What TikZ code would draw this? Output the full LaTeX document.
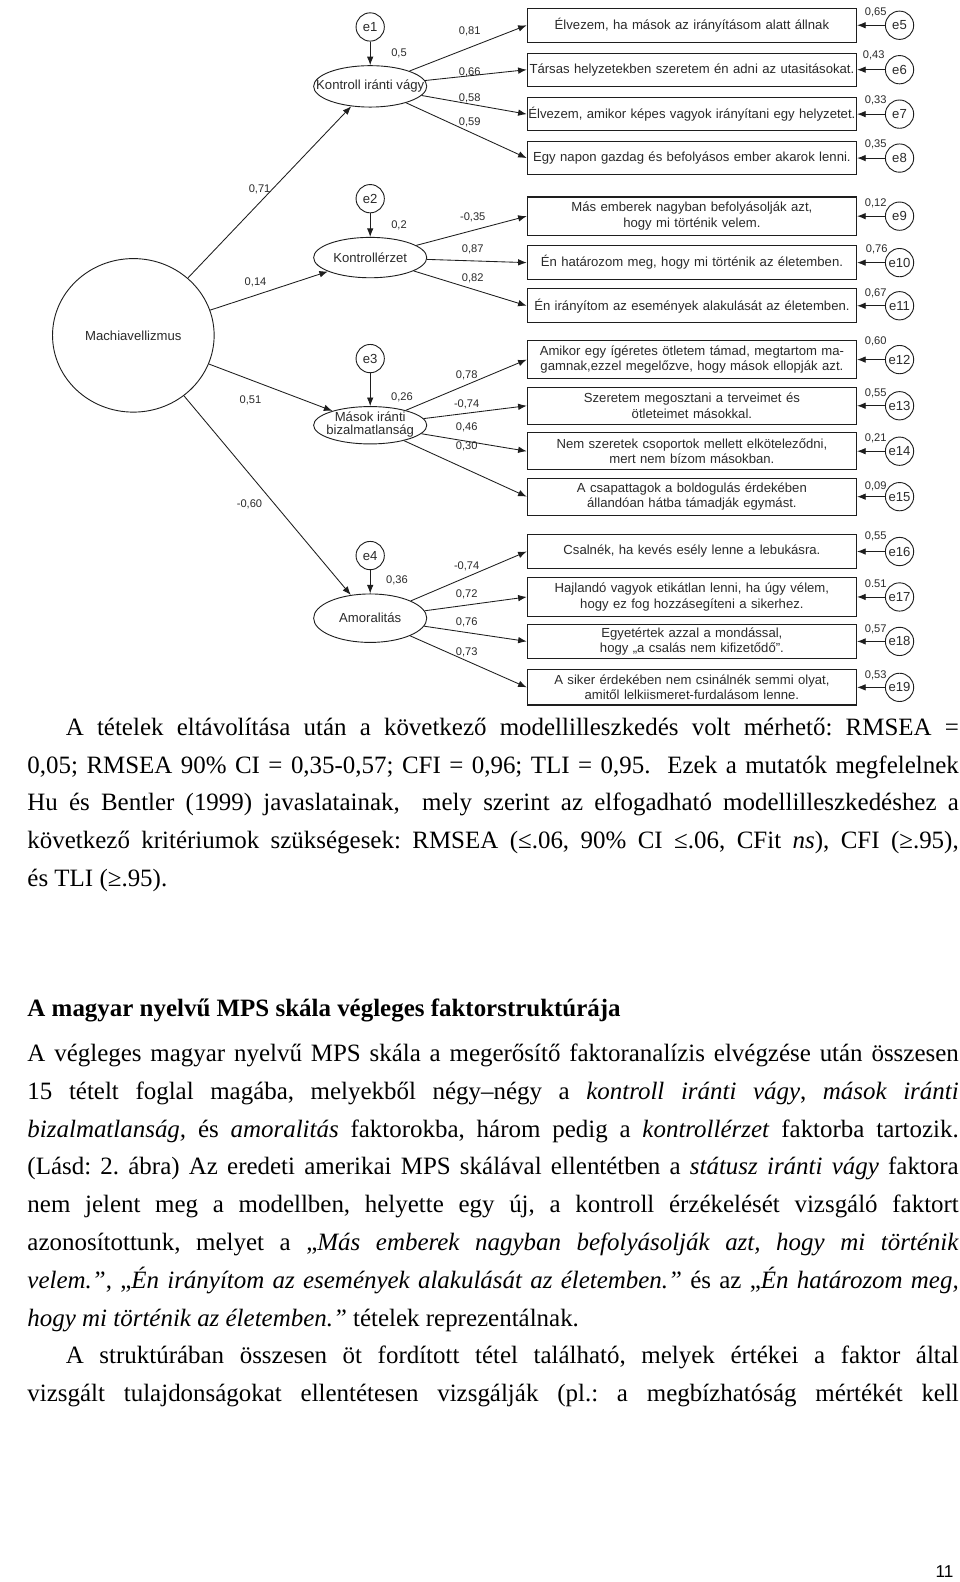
\documentclass[tikz,border=0pt]{standalone}
\usepackage{fontspec}
\setmainfont{Liberation Serif}
\newfontfamily\arialf{Liberation Sans}
\usetikzlibrary{shapes.geometric,arrows.meta}
\newcommand\diagfont{\arialf\fontsize{13}{15.5}\selectfont}
\newcommand\numfont{\arialf\fontsize{11}{13}\selectfont}
\newcommand\mybody{\fontsize{24.7}{37.4}\selectfont}
\newcommand\jline[2]{\makebox[#1][s]{#2}}
\definecolor{ink}{HTML}{1E1E1E}
\definecolor{tink}{HTML}{2A2A2A}
\frenchspacing
\begin{document}
\begin{tikzpicture}[x=1pt,y=-1pt,
  lat/.style={draw=ink, ellipse, line width=0.9pt, minimum width=112pt, minimum height=40pt, inner sep=0pt},
  dtext/.style={font=\diagfont, text=tink, align=center, inner sep=0pt},
  err/.style={draw=ink, circle, line width=0.9pt, minimum size=28pt, inner sep=0pt, font=\diagfont, text=tink},
  item/.style={draw=ink, rectangle, line width=1.1pt, text width=340pt, inner xsep=-7pt, inner ysep=0pt, font=\diagfont, text=tink, align=center},
  num/.style={font=\numfont, text=tink, inner sep=0pt},
  arr/.style={draw=ink, line width=0.85pt, -{Latex[length=8.5pt,width=6.5pt]}},
  bl/.style={anchor=base west, inner sep=0pt, font=\mybody}
]
\useasboundingbox (0,0) rectangle (950.4,1566.2);
\fill[white] (0,0) rectangle (950.4,1566.2);

% ---------- latent variables ----------
\node[lat, minimum width=160pt, minimum height=152pt] (mach) at (132,332) {};
\node[dtext] (macht) at (mach) {Machiavellizmus};
\node[lat, minimum height=41pt] (k1) at (366.5,85.5) {};
\node[dtext] (k1t) at (k1) {Kontroll iránti vágy};
\node[lat, minimum height=40pt] (k2) at (366.5,255) {};
\node[dtext] (k2t) at (k2) {Kontrollérzet};
\node[lat, minimum height=37pt] (k3) at (366.5,421) {};
\node[dtext, font=\arialf\fontsize{13}{13}\selectfont] (k3t) at (366.5,420) {Mások iránti\\bizalmatlanság};
\node[lat, minimum height=48pt] (k4) at (366.5,612) {};
\node[dtext] (k4t) at (k4) {Amoralitás};

% ---------- disturbance terms ----------
\node[err] (e1) at (366.5,26.7) {e1};
\node[err] (e2) at (366.5,196.7) {e2};
\node[err] (e3) at (366.5,355) {e3};
\node[err] (e4) at (366.5,550) {e4};

% ---------- items ----------
\node[item, minimum height=34pt] (b1) at (685,25) {Élvezem, ha mások az irányításom alatt állnak};
\node[item, minimum height=32.5pt] (b2) at (685,69) {Társas helyzetekben szeretem én adni az utasitásokat.};
\node[item, minimum height=32.5pt] (b3) at (685,113) {Élvezem, amikor képes vagyok irányítani egy helyzetet.};
\node[item, minimum height=33pt] (b4) at (685,156.5) {Egy napon gazdag és befolyásos ember akarok lenni.};
\node[item, minimum height=38pt] (b9) at (685,214) {Más emberek nagyban befolyásolják azt,\\hogy mi történik velem.};
\node[item, minimum height=33.5pt] (b10) at (685,260) {Én határozom meg, hogy mi történik az életemben.};
\node[item, minimum height=33.5pt] (b11) at (685,302.7) {Én irányítom az események alakulását az életemben.};
\node[item, minimum height=37.5pt] (b12) at (685,356) {Amikor egy ígéretes ötletem támad, megtartom ma-\\gamnak,ezzel megelőzve, hogy mások ellopják azt.};
\node[item, minimum height=36.5pt] (b13) at (685,401.7) {Szeretem megosztani a terveimet és\\ötleteimet másokkal.};
\node[item, minimum height=36.5pt] (b14) at (685,446.7) {Nem szeretek csoportok mellett elköteleződni,\\mert nem bízom másokban.};
\node[item, minimum height=36.5pt] (b15) at (685,491.7) {A csapattagok a boldogulás érdekében\\állandóan hátba támadják egymást.};
\node[item, minimum height=34pt] (b16) at (685,546) {Csalnék, ha kevés esély lenne a lebukásra.};
\node[item, minimum height=38pt] (b17) at (685,591) {Hajlandó vagyok etikátlan lenni, ha úgy vélem,\\hogy ez fog hozzásegíteni a sikerhez.};
\node[item, minimum height=33.5pt] (b18) at (685,635) {Egyetértek azzal a mondással,\\hogy „a csalás nem kifizetődő”.};
\node[item, minimum height=35pt] (b19) at (685,680.5) {A siker érdekében nem csinálnék semmi olyat,\\amitől lelkiismeret-furdalásom lenne.};

% ---------- item errors ----------
\foreach \n/\b in {5/b1,6/b2,7/b3,8/b4,9/b9,10/b10,11/b11,12/b12,13/b13,14/b14,15/b15,16/b16,17/b17,18/b18,19/b19}{
  \node[err] (e\n) at ([xshift=42pt]\b.east) {e\n};
  \draw[arr] (e\n) -- (\b.east);
}

% ---------- structural paths ----------
\draw[arr] (mach) -- (k1);
\draw[arr] (mach) -- (k2);
\draw[arr] (mach) -- (k3);
\draw[arr] (mach) -- (k4);
\draw[arr] (e1) -- (k1);
\draw[arr] (e2) -- (k2);
\draw[arr] (e3) -- (k3);
\draw[arr] (e4) -- (k4);

% ---------- loadings ----------
\foreach \b in {b1,b2,b3,b4}{\draw[arr] (k1) -- (\b.west);}
\foreach \b in {b9,b10,b11}{\draw[arr] (k2) -- (\b.west);}
\foreach \b in {b12,b13,b14,b15}{\draw[arr] (k3) -- (\b.west);}
\foreach \b in {b16,b17,b18,b19}{\draw[arr] (k4) -- (\b.west);}

% ---------- numbers ----------
\node[num] (n71) at (257,187) {0,71};
\node[num] (n14) at (253,280) {0,14};
\node[num] (n51) at (248,396) {0,51};
\node[num] (n60) at (247,499) {-0,60};
\node[num] (r1) at (395,53) {0,5};
\node[num] (r2) at (395,223) {0,2};
\node[num] (r3) at (398,393) {0,26};
\node[num] (r4) at (393,575) {0,36};
\node[num] (l1) at (465,31) {0,81};
\node[num] (l2) at (465,72) {0,66};
\node[num] (l3) at (465,97.5) {0,58};
\node[num] (l4) at (465,121.5) {0,59};
\node[num] (l9) at (468,215) {-0,35};
\node[num] (l10) at (468,247) {0,87};
\node[num] (l11) at (468,276) {0,82};
\node[num] (l12) at (462,372) {0,78};
\node[num] (l13) at (462,400) {-0,74};
\node[num] (l14) at (462,423) {0,46};
\node[num] (l15) at (462,442) {0,30};
\node[num] (l16) at (462,561) {-0,74};
\node[num] (l17) at (462,588) {0,72};
\node[num] (l18) at (462,616) {0,76};
\node[num] (l19) at (462,646) {0,73};
\node[num] (s5) at (867,12.7) {0,65};
\node[num] (s6) at (865,55) {0,43};
\node[num] (s7) at (867,99.3) {0,33};
\node[num] (s8) at (867,142.7) {0,35};
\node[num] (s9) at (867,201.7) {0,12};
\node[num] (s10) at (868,247) {0,76};
\node[num] (s11) at (867,290.7) {0,67};
\node[num] (s12) at (867,338.3) {0,60};
\node[num] (s13) at (867,389.3) {0,55};
\node[num] (s14) at (867,434) {0,21};
\node[num] (s15) at (867,481.7) {0,09};
\node[num] (s16) at (867,530.7) {0,55};
\node[num] (s17) at (867,578.3) {0.51};
\node[num] (s18) at (867,623.3) {0,57};
\node[num] (s19) at (867,668.3) {0,53};

% ---------- body text ----------
\node[bl] (p1a) at (65,728) {\jline{884pt}{A tételek eltávolítása után a következő modellilleszkedés volt mérhető: RMSEA =}};
\node[bl] (p1b) at (27,765.4) {\jline{922pt}{0,05; RMSEA 90\% CI = 0,35-0,57; CFI = 0,96; TLI = 0,95.\ \ Ezek a mutatók megfelelnek}};
\node[bl] (p1c) at (27,802.8) {\jline{922pt}{Hu és Bentler (1999) javaslatainak,\ \ mely szerint az elfogadható modellilleszkedéshez a}};
\node[bl] (p1d) at (27,840.2) {\jline{922pt}{következő kritériumok szükségesek: RMSEA (≤.06, 90\% CI ≤.06, CFit \textit{ns}), CFI (≥.95),}};
\node[bl] (p1e) at (27,877.6) {és TLI (≥.95).};

\node[bl, font=\mybody\bfseries] (hd) at (27,1006) {A magyar nyelvű MPS skála végleges faktorstruktúrája};

\node[bl] (p2a) at (27,1051) {\jline{922pt}{A végleges magyar nyelvű MPS skála a megerősítő faktoranalízis elvégzése után összesen}};
\node[bl] (p2b) at (27,1088.4) {\jline{922pt}{15 tételt foglal magába, melyekből négy–négy a \textit{kontroll iránti vágy}, \textit{mások iránti}}};
\node[bl] (p2c) at (27,1125.8) {\jline{922pt}{\textit{bizalmatlanság,} és \textit{amoralitás} faktorokba, három pedig a \textit{kontrollérzet} faktorba tartozik.}};
\node[bl] (p2d) at (27,1163.2) {\jline{922pt}{(Lásd: 2. ábra) Az eredeti amerikai MPS skálával ellentétben a \textit{státusz iránti vágy} faktora}};
\node[bl] (p2e) at (27,1200.6) {\jline{922pt}{nem jelent meg a modellben, helyette egy új, a kontroll érzékelését vizsgáló faktort}};
\node[bl] (p2f) at (27,1238) {\jline{922pt}{azonosítottunk, melyet a „\textit{Más emberek nagyban befolyásolják azt, hogy mi történik}}};
\node[bl] (p2g) at (27,1275.4) {\jline{922pt}{\textit{velem.”}, „\textit{Én irányítom az események alakulását az életemben.”} és az „\textit{Én határozom meg,}}};
\node[bl] (p2h) at (27,1312.8) {\textit{hogy mi történik az életemben.”} tételek reprezentálnak.};
\node[bl] (p3a) at (65,1350.2) {\jline{884pt}{A struktúrában összesen öt fordított tétel található, melyek értékei a faktor által}};
\node[bl] (p3b) at (27,1387.6) {\jline{922pt}{vizsgált tulajdonságokat ellentétesen vizsgálják (pl.: a megbízhatóság mértékét kell}};

\node[anchor=base, inner sep=0pt, font=\arialf\fontsize{17}{20}\selectfont] (pg) at (935,1562) {11};
\end{tikzpicture}
\end{document}
